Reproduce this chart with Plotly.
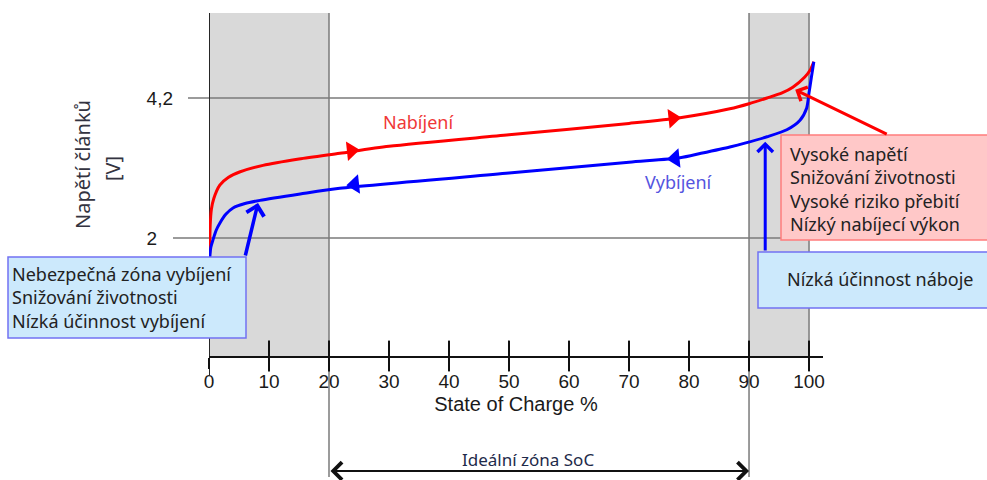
import plotly.graph_objects as go

# ---------------- data ----------------
soc_ticks = [0, 10, 20, 30, 40, 50, 60, 70, 80, 90, 100]
volt_ticks = [2, 4.2]
volt_tick_text = ["2\u00a0\u00a0\u00a0", "4,2"]

charge_soc = [0.1, 0.2, 0.4, 0.8, 1.8, 3.2, 5.2, 9.0, 15.0, 21.8, 30.0, 50.0, 70.0, 78.5, 86.8, 90.0, 93.0, 95.5, 97.3, 99.3, 100.2, 100.8]
charge_v = [1.75, 2.2, 2.45, 2.62, 2.83, 2.95, 3.04, 3.14, 3.24, 3.33, 3.44, 3.62, 3.80, 3.89, 4.03, 4.11, 4.2, 4.28, 4.37, 4.53, 4.64, 4.77]

discharge_soc = [0.1, 0.3, 0.7, 1.2, 1.8, 2.8, 4.0, 6.0, 8.5, 15.2, 21.8, 50.0, 70.0, 78.5, 82.0, 86.8, 89.3, 93.0, 96.3, 98.5, 99.6, 100.0, 100.4, 100.8]
discharge_v = [1.65, 1.85, 1.98, 2.12, 2.23, 2.37, 2.47, 2.54, 2.59, 2.69, 2.78, 3.02, 3.19, 3.26, 3.33, 3.43, 3.49, 3.59, 3.70, 3.85, 4.04, 4.28, 4.53, 4.77]

charge_arrow_soc = [23.7, 77.3]
charge_arrow_v = [3.37, 3.88]
discharge_arrow_soc = [24.3, 77.7]
discharge_arrow_v = [2.84, 3.25]

low_zone = [0, 20]
high_zone = [90, 100]
ideal_zone = [20, 90]

box_low = ["Nebezpečná zóna vybíjení", "Snižování životnosti", "Nízká účinnost vybíjení"]
box_high = ["Vysoké napětí", "Snižování životnosti", "Vysoké riziko přebití", "Nízký nabíjecí výkon"]
box_eff = ["Nízká účinnost náboje"]

# ---------------- layout geometry ----------------
W, H = 987, 480
L, R, T, B = 209, 164, 13, 124
PW, PH = W - L - R, H - T - B
X_RANGE = [0, 102.33]
Y_RANGE = [0.143, 5.536]


def px(xp):
    return (xp - L) / PW


def py(yp):
    return (H - B - yp) / PH


TEXT_FONT = "Noto Sans"
AX_FONT = "Liberation Sans, Arial"

fig = go.Figure()

fig.add_trace(go.Scatter(x=charge_soc, y=charge_v, mode="lines",
                         line=dict(color="#ff0000", width=3, shape="spline", smoothing=0.7),
                         hoverinfo="skip"))
fig.add_trace(go.Scatter(x=discharge_soc, y=discharge_v, mode="lines",
                         line=dict(color="#0000ff", width=3, shape="spline", smoothing=0.7),
                         hoverinfo="skip"))
fig.add_trace(go.Scatter(x=charge_arrow_soc, y=charge_arrow_v, mode="markers",
                         marker=dict(symbol="triangle-right", size=17, angle=-6, color="#ff0000"),
                         hoverinfo="skip"))
fig.add_trace(go.Scatter(x=discharge_arrow_soc, y=discharge_arrow_v, mode="markers",
                         marker=dict(symbol="triangle-left", size=17, angle=-6, color="#0000ff"),
                         hoverinfo="skip"))
# cross-style tick marks on the SoC axis
fig.add_trace(go.Scatter(x=soc_ticks[1:], y=[Y_RANGE[0]] * (len(soc_ticks) - 1), mode="markers",
                         marker=dict(symbol="line-ns", size=22, line=dict(color="#111111", width=2)),
                         cliponaxis=False, hoverinfo="skip"))

shapes = []
# shaded zones
for z in (low_zone, high_zone):
    shapes.append(dict(type="rect", xref="x", yref="paper", x0=z[0], x1=z[1], y0=0, y1=1,
                       fillcolor="#d9d9d9", line=dict(width=0), layer="below"))
# horizontal voltage lines
shapes.append(dict(type="line", xref="paper", yref="y", x0=px(188), x1=px(810), y0=volt_ticks[1], y1=volt_ticks[1],
                   line=dict(color="#7a7a7a", width=1.5), layer="below"))
shapes.append(dict(type="line", xref="paper", yref="y", x0=px(173), x1=px(810), y0=volt_ticks[0], y1=volt_ticks[0],
                   line=dict(color="#7a7a7a", width=1.5), layer="below"))
# vertical lines
shapes.append(dict(type="line", xref="x", yref="paper", x0=low_zone[0], x1=low_zone[0], y0=py(375), y1=1,
                   line=dict(color="#262626", width=2), layer="below"))
for xv in ideal_zone:
    shapes.append(dict(type="line", xref="x", yref="paper", x0=xv, x1=xv, y0=py(477), y1=1,
                       line=dict(color="#7a7a7a", width=1.5), layer="below"))
shapes.append(dict(type="line", xref="x", yref="paper", x0=high_zone[1], x1=high_zone[1], y0=0, y1=1,
                   line=dict(color="#7a7a7a", width=1.5), layer="below"))
# note boxes
shapes.append(dict(type="rect", xref="paper", yref="paper", x0=px(8), x1=px(246), y0=py(338), y1=py(257),
                   fillcolor="#cce9fc", line=dict(color="#7272f2", width=1.5), layer="above"))
shapes.append(dict(type="rect", xref="paper", yref="paper", x0=px(781), x1=px(1000), y0=py(240), y1=py(135),
                   fillcolor="#ffc8c8", line=dict(color="#ff7c7c", width=1.5), layer="above"))
shapes.append(dict(type="rect", xref="paper", yref="paper", x0=px(758), x1=px(1000), y0=py(308), y1=py(252),
                   fillcolor="#cce9fc", line=dict(color="#7272f2", width=1.5), layer="above"))

ann = []
TXT = "#222222"
ann.append(dict(xref="paper", yref="paper", x=px(10), y=py(297), xanchor="left", yanchor="middle",
                align="left", text="<br>".join(box_low), showarrow=False,
                font=dict(family=TEXT_FONT, size=18, color=TXT)))
ann.append(dict(xref="paper", yref="paper", x=px(788), y=py(189), xanchor="left", yanchor="middle",
                align="left", text="<br>".join(box_high), showarrow=False,
                font=dict(family=TEXT_FONT, size=18, color=TXT)))
ann.append(dict(xref="paper", yref="paper", x=px(785), y=py(279), xanchor="left", yanchor="middle",
                align="left", text="<br>".join(box_eff), showarrow=False,
                font=dict(family=TEXT_FONT, size=18, color=TXT)))
# curve labels
ann.append(dict(xref="x", yref="y", x=34.75, y=3.82, text="Nabíjení", showarrow=False,
                xanchor="center", yanchor="middle",
                font=dict(family=TEXT_FONT, size=18, color="#f03838")))
ann.append(dict(xref="x", yref="y", x=78.3, y=2.88, text="Vybíjení", showarrow=False,
                xanchor="center", yanchor="middle",
                font=dict(family=TEXT_FONT, size=18, color="#5555e0")))
# pointer arrows
ann.append(dict(xref="x", yref="y", axref="x", ayref="y", x=8.17, y=2.55, ax=6.0, ay=1.70, text="",
                showarrow=True, arrowhead=4, arrowsize=1, arrowwidth=3.5, arrowcolor="#0000ff",
                standoff=0, startstandoff=0))
ann.append(dict(xref="x", yref="y", axref="x", ayref="y", x=97.7, y=4.33, ax=113.2, ay=3.62, text="",
                showarrow=True, arrowhead=4, arrowsize=1, arrowwidth=3, arrowcolor="#ff0000",
                standoff=0, startstandoff=0))
ann.append(dict(xref="x", yref="y", axref="x", ayref="y", x=92.7, y=3.51, ax=92.7, ay=1.78, text="",
                showarrow=True, arrowhead=4, arrowsize=1, arrowwidth=3, arrowcolor="#0000ff",
                standoff=0, startstandoff=0))
# ideal zone
ann.append(dict(xref="x", yref="paper", axref="x", ayref="pixel", x=ideal_zone[1], y=py(471),
                ax=ideal_zone[0], ay=0, text="", showarrow=True, arrowhead=4, arrowside="end+start",
                arrowsize=1.7, arrowwidth=2, arrowcolor="#111111", standoff=0, startstandoff=0))
ann.append(dict(xref="x", yref="paper", x=sum(ideal_zone) / 2 - 1.8, y=py(459), text="Ideální zóna SoC",
                xanchor="center", yanchor="middle",
                showarrow=False, font=dict(family=TEXT_FONT, size=17, color="#1e2a4a")))
# y-axis title
ann.append(dict(xref="paper", yref="paper", x=px(82), y=py(165), text="Napětí článků", textangle=-90,
                xanchor="center", yanchor="middle",
                showarrow=False, font=dict(family=TEXT_FONT, size=20, color="#333340")))
ann.append(dict(xref="paper", yref="paper", x=px(112), y=py(169), text="[V]", textangle=-90,
                xanchor="center", yanchor="middle",
                showarrow=False, font=dict(family=TEXT_FONT, size=20, color="#333340")))

fig.update_layout(
    width=W, height=H, autosize=False,
    margin=dict(l=L, r=R, t=T, b=B, pad=0),
    paper_bgcolor="white", plot_bgcolor="white",
    showlegend=False,
    shapes=shapes, annotations=ann,
    xaxis=dict(range=X_RANGE, showgrid=False, zeroline=False, showline=True, linecolor="#111111",
               linewidth=2, ticks="outside", ticklen=11, tickwidth=2, tickcolor="#111111",
               tickmode="array", tickvals=soc_ticks, ticktext=[str(v) for v in soc_ticks],
               ticklabelstandoff=-4,
               tickfont=dict(family=AX_FONT, size=19, color="#1a1a1a"),
               title=dict(text="State of Charge %", standoff=6,
                          font=dict(family=AX_FONT, size=20, color="#1a1a1a")),
               fixedrange=True),
    yaxis=dict(range=Y_RANGE, showgrid=False, zeroline=False, showline=False, ticks="",
               tickmode="array", tickvals=volt_ticks, ticktext=volt_tick_text,
               ticklabelstandoff=35,
               tickfont=dict(family=AX_FONT, size=19, color="#1a1a1a"), fixedrange=True),
)

fig.write_html("out.html", config={"displayModeBar": False},
               post_script="document.body.style.margin='0';document.body.style.overflow='hidden';")
